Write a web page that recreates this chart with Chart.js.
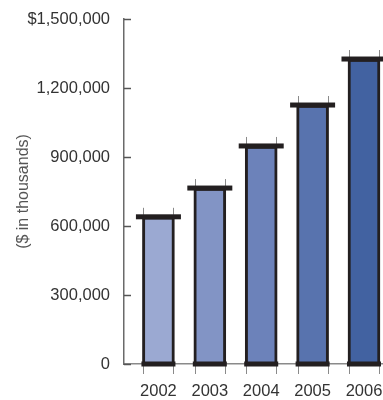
<!DOCTYPE html>
<html>
<head>
<meta charset="utf-8">
<script src="https://cdn.jsdelivr.net/npm/chart.js@4/dist/chart.umd.min.js"></script>
<style>
  html, body { margin: 0; padding: 0; background: #ffffff; }
  #wrap { width: 383px; height: 400px; position: relative; }
</style>
</head>
<body>
<div id="wrap"><canvas id="chart" width="383" height="400"></canvas></div>
<script>
// Revenue by year ($ in thousands)
const years = [2002, 2003, 2004, 2005, 2006];
const revenue = [640000, 765000, 948000, 1126000, 1326000];
const barColors = ['#9BA9D2', '#8294C5', '#6C82BA', '#5873AE', '#4262A1'];
const yTicks = [0, 300000, 600000, 900000, 1200000, 1500000];

const INK = '#231f20';

function fmt(v) {
  const s = v.toLocaleString('en-US');
  return v === 1500000 ? '$' + s : s;
}

// Caps on bar tops, heavy band on the baseline, inward y ticks and edge marks
const barDecor = {
  id: 'barDecor',
  afterDatasetsDraw(chart) {
    const ctx = chart.ctx;
    const meta = chart.getDatasetMeta(0);
    const yScale = chart.scales.y;
    const area = chart.chartArea;
    ctx.save();
    // inward tick marks on the value axis
    ctx.strokeStyle = '#555';
    ctx.lineWidth = 1.5;
    yScale.ticks.forEach(t => {
      const py = Math.round(yScale.getPixelForValue(t.value)) + 0.5;
      ctx.beginPath();
      ctx.moveTo(area.left, py);
      ctx.lineTo(area.left + 7, py);
      ctx.stroke();
    });
    meta.data.forEach((bar) => {
      const half = bar.width / 2;
      const l = bar.x - half, r = bar.x + half;
      // thin marks at the bar edges above the cap and below the base
      ctx.strokeStyle = '#8a8a8a';
      ctx.lineWidth = 1;
      [l + 1, r - 1].forEach(ex => {
        const xx = Math.round(ex) + 0.5;
        ctx.beginPath();
        ctx.moveTo(xx, bar.y - 9);
        ctx.lineTo(xx, bar.y - 2);
        ctx.moveTo(xx, bar.base + 2);
        ctx.lineTo(xx, bar.base + 10);
        ctx.stroke();
      });
      // cap
      ctx.fillStyle = INK;
      ctx.fillRect(l - 6.5, bar.y - 2.5, bar.width + 13, 5);
      // base band
      ctx.fillRect(l - 1, bar.base - 2.5, bar.width + 2, 5);
    });
    ctx.restore();
  }
};

new Chart(document.getElementById('chart'), {
  type: 'bar',
  data: {
    datasets: [{
      data: years.map((y, i) => ({ x: y, y: revenue[i] })),
      backgroundColor: barColors,
      borderColor: INK,
      borderWidth: 3,
      borderSkipped: 'bottom',
      barThickness: 32
    }]
  },
  options: {
    responsive: false,
    animation: false,
    devicePixelRatio: 1,
    layout: { padding: { top: 19, right: 0, left: 0, bottom: 0 } },
    plugins: { legend: { display: false }, tooltip: { enabled: false } },
    scales: {
      x: {
        type: 'linear',
        offset: false,
        min: 2001.33,
        max: 2006.37,
        afterBuildTicks: (s) => { s.ticks = years.map(v => ({ value: v })); },
        afterFit: (s) => { s.height = 36; s.paddingLeft = 0; s.paddingRight = 0; },
        grid: { display: false, offset: false },
        border: { display: true, color: '#8a8a8a', width: 1.5 },
        ticks: {
          autoSkip: false,
          maxRotation: 0,
          padding: 10,
          color: '#333333',
          font: { family: 'Liberation Sans', size: 16.5 },
          callback: (v) => String(v)
        }
      },
      y: {
        min: 0,
        max: 1500000,
        afterBuildTicks: (s) => { s.ticks = yTicks.map(v => ({ value: v })); },
        afterFit: (s) => { s.width = 124; },
        grid: { display: false },
        border: { display: true, color: '#6a6a6a', width: 1.5 },
        ticks: {
          padding: 6,
          color: '#333333',
          font: { family: 'Liberation Sans', size: 16.5 },
          callback: (v) => fmt(v)
        },
        title: {
          display: true,
          text: '($ in thousands)',
          color: '#555555',
          font: { family: 'Liberation Sans', size: 16 },
          padding: { top: 14, bottom: 0 }
        }
      }
    }
  },
  plugins: [barDecor]
});
</script>
</body>
</html>
